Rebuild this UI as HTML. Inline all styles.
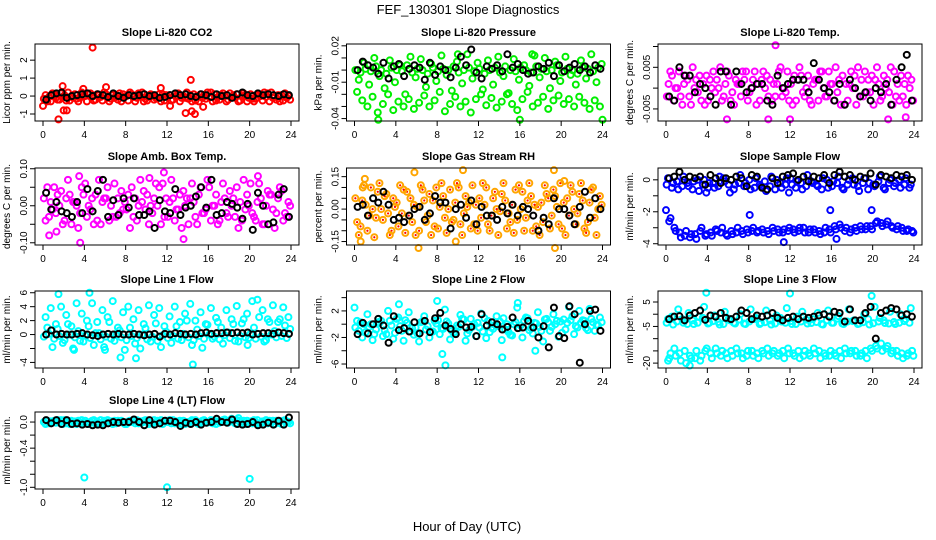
<!DOCTYPE html>
<html><head><meta charset="utf-8"><title>FEF_130301 Slope Diagnostics</title>
<style>
html,body{margin:0;padding:0;background:#fff;}
svg{display:block;font-family:"Liberation Sans",sans-serif;}
</style></head>
<body>
<svg id="fig" width="936" height="540" viewBox="0 0 936 540">
<text x="468" y="14" text-anchor="middle" font-size="13">FEF_130301  Slope Diagnostics</text>
<text x="467" y="531" text-anchor="middle" font-size="13">Hour of Day (UTC)</text>
</svg>
<script>
const halfHours = [0,0.5,1,1.5,2,2.5,3,3.5,4,4.5,5,5.5,6,6.5,7,7.5,8,8.5,9,9.5,10,10.5,11,11.5,12,12.5,13,13.5,14,14.5,15,15.5,16,16.5,17,17.5,18,18.5,19,19.5,20,20.5,21,21.5,22,22.5,23,23.5];
const xTicks = [0,4,8,12,16,20,24];

const co2A = [-0.15,-0.05,0.1,-0.2,0.05,-0.25,0.1,-0.1,0.0,0.15,-0.2,-0.05,0.1,-0.15,0.05,-0.3,0.0,0.1,-0.1,0.2,-0.25,0.05,-0.1,0.1,-0.05,-0.2,0.15,0.0,-0.15,0.1,-0.3,0.05,-0.05,0.1,-0.2,0.0,0.15,-0.1,-0.25,0.05,0.1,-0.15,0.0,-0.05,0.2,-0.2,0.05,-0.1];
const co2B = [0.05,-0.3,-0.1,0.15,-0.25,0.0,-0.15,0.2,-0.3,-0.05,0.1,-0.25,-0.1,0.05,-0.2,0.1,-0.25,-0.05,0.15,-0.3,0.0,-0.2,0.1,-0.25,0.05,0.1,-0.3,-0.1,0.05,-0.25,0.1,-0.15,0.2,-0.25,0.05,-0.3,-0.05,0.1,0.0,-0.3,-0.15,0.1,-0.25,0.15,-0.1,0.05,-0.25,0.0];
const co2C = [-0.3,0.15,-0.2,-0.05,0.2,-0.1,-0.3,0.0,0.1,-0.25,0.05,0.2,-0.3,-0.1,0.15,-0.05,0.2,-0.3,0.0,-0.15,0.1,-0.1,-0.3,0.05,-0.25,0.0,-0.1,0.2,-0.3,0.0,-0.1,0.2,-0.3,-0.05,0.15,-0.2,0.05,-0.3,0.15,-0.1,-0.3,0.05,0.2,-0.3,-0.05,-0.3,0.15,-0.2];
const co2Black = [-0.2,0.05,0.15,0.2,-0.1,0.0,0.05,0.1,0.15,0.0,0.1,0.05,-0.05,0.15,0.0,-0.1,0.05,0.0,0.05,0.1,0.0,0.05,-0.1,-0.05,0.05,0.15,0.05,0.1,0.0,-0.05,0.1,0.05,-0.05,0.1,0.0,0.05,-0.1,0.1,0.2,0.05,0.0,0.15,0.05,0.1,0.05,0.0,0.1,0.05];
const co2OutHours = [0.0,1.5,1.9,2.0,2.3,3.9,4.8,6.1,11.4,12.3,13.8,14.3,14.4,14.7,15.5];
const co2OutVals = [-0.55,-1.3,0.55,-0.8,-0.8,0.4,2.7,0.5,0.45,-0.55,-0.95,0.9,-0.85,-1.0,-0.6];

const presA = [0.0,-0.002,0.001,-0.001,0.003,0.0,-0.003,0.002,0.0,-0.001,0.004,-0.002,0.001,0.0,-0.003,0.002,-0.001,0.001,0.0,0.003,-0.002,0.0,0.002,-0.001,0.001,-0.003,0.0,0.002,-0.002,0.003,0.0,-0.001,0.002,0.0,-0.002,0.003,0.001,-0.001,0.0,0.004,-0.002,0.001,0.0,-0.003,0.002,0.001,-0.001,0.002];
const presB = [-0.018,-0.025,-0.03,-0.022,-0.035,-0.028,-0.02,-0.033,-0.026,-0.03,-0.024,-0.032,-0.027,-0.021,-0.03,-0.025,-0.018,-0.034,-0.028,-0.022,-0.03,-0.026,-0.035,-0.024,-0.02,-0.029,-0.023,-0.031,-0.026,-0.02,-0.028,-0.033,-0.024,-0.018,-0.03,-0.027,-0.022,-0.032,-0.025,-0.021,-0.028,-0.024,-0.03,-0.022,-0.027,-0.032,-0.025,-0.03];
const presC = [-0.008,0.006,-0.012,0.01,-0.005,-0.015,0.008,-0.01,0.004,-0.02,0.011,-0.006,0.009,-0.014,0.005,-0.009,0.012,-0.004,-0.017,0.007,-0.011,0.013,-0.007,0.006,-0.016,0.008,-0.012,0.011,-0.005,-0.019,0.009,-0.008,0.004,-0.013,0.012,-0.006,0.01,-0.015,0.007,-0.009,0.011,-0.004,-0.012,0.008,-0.007,0.013,-0.01,0.005];
const presBlack = [0.0,0.007,0.004,0.002,-0.003,0.006,-0.007,0.003,0.005,-0.005,0.001,0.004,0.002,-0.008,0.006,-0.004,0.003,0.0,-0.006,0.002,0.011,0.004,0.017,-0.002,-0.007,0.003,0.001,0.004,-0.001,0.013,0.002,0.005,0.0,-0.003,-0.002,0.003,0.001,0.006,-0.005,0.004,-0.001,0.002,0.005,0.0,0.003,-0.002,0.004,0.001];
const presOutHours = [2.3,16.0,24.0,10.0,17.2];
const presOutVals = [-0.041,-0.041,-0.041,0.013,0.013];

const tempA = [-0.002,0.003,0.0,-0.004,0.002,0.005,-0.001,0.001,-0.003,0.004,0.0,-0.002,0.003,-0.004,0.001,0.002,-0.001,0.004,-0.003,0.0,0.002,-0.002,0.005,-0.001,0.001,-0.003,0.003,0.0,-0.004,0.002,0.004,-0.002,0.001,-0.001,0.003,-0.003,0.0,0.005,-0.002,0.002,-0.004,0.001,0.003,-0.001,0.004,-0.003,0.001,0.0];
const tempB = [0.001,-0.003,0.004,0.001,-0.002,0.0,0.003,-0.004,0.002,-0.001,0.005,0.001,-0.003,0.002,-0.002,0.004,0.0,-0.004,0.002,0.003,-0.003,0.001,-0.002,0.004,-0.004,0.002,-0.001,0.003,0.001,-0.003,0.0,0.004,-0.003,0.002,-0.004,0.001,0.003,-0.002,0.004,-0.001,0.002,-0.003,0.0,0.005,-0.002,0.003,-0.004,0.002];
const tempC = [0.004,0.0,-0.002,0.003,-0.004,0.002,-0.003,0.003,0.0,0.002,-0.003,0.004,-0.001,0.001,0.004,-0.003,0.002,0.001,0.004,-0.002,0.001,0.004,0.0,-0.003,0.003,0.005,-0.002,-0.003,0.002,0.004,-0.002,0.001,0.005,-0.004,0.001,0.004,-0.004,0.002,-0.001,0.003,0.005,-0.002,0.002,-0.004,0.001,-0.002,0.003,-0.003];
const tempBlack = [-0.002,-0.003,0.005,0.003,0.003,-0.001,0.001,0.0,-0.002,-0.004,0.004,0.004,-0.004,0.004,0.001,-0.001,0.0,0.001,0.001,-0.003,-0.004,0.003,0.0,0.001,0.002,0.002,0.002,-0.001,0.006,0.002,0.0,-0.001,-0.003,0.001,-0.004,0.002,0.0,-0.002,-0.001,-0.003,0.0,-0.001,0.001,-0.004,0.002,0.005,0.008,-0.003];
const tempOutHours = [5.9,9.9,10.6,12.0,21.5,23.2];
const tempOutVals = [-0.0075,-0.0075,0.0103,-0.0075,-0.0075,-0.007];

const ambA = [0.02,-0.03,0.05,0.0,-0.04,0.03,0.01,-0.02,0.06,-0.01,0.03,-0.05,0.02,0.0,-0.03,0.04,-0.01,0.05,-0.04,0.01,0.03,-0.02,0.0,0.06,-0.03,0.02,-0.01,0.04,-0.05,0.01,0.03,-0.02,0.05,0.0,-0.04,0.02,0.04,-0.03,0.01,-0.01,0.06,-0.04,0.02,0.0,0.03,-0.02,0.04,-0.03];
const ambB = [-0.04,0.01,-0.02,0.04,0.02,-0.05,0.0,0.05,-0.03,0.02,-0.04,0.01,0.05,-0.03,0.02,-0.01,0.03,-0.03,0.0,0.04,-0.05,0.02,0.05,-0.03,0.01,-0.04,0.03,0.0,0.02,-0.03,0.05,-0.01,-0.04,0.03,0.01,-0.02,0.0,0.05,-0.04,0.03,-0.02,0.01,-0.05,0.04,-0.01,0.02,-0.04,0.01];
const ambC = [0.05,-0.01,0.03,-0.05,0.07,0.01,-0.06,0.03,0.0,-0.05,0.07,0.02,-0.04,0.06,-0.02,0.01,-0.06,0.02,0.07,-0.01,0.0,0.06,-0.05,0.02,0.07,-0.01,-0.06,0.02,0.06,-0.05,-0.02,0.07,0.0,-0.05,0.06,-0.03,0.02,-0.06,0.07,0.0,-0.03,0.06,-0.05,0.03,-0.06,0.05,-0.02,0.0];
const ambBlack = [0.035,-0.01,0.01,-0.015,-0.02,-0.03,0.01,-0.02,0.045,-0.015,0.04,0.07,-0.03,0.015,-0.025,0.02,-0.005,0.02,-0.025,-0.025,-0.015,-0.06,0.015,-0.015,-0.02,0.045,-0.025,-0.005,0.0,0.025,0.05,-0.005,0.07,-0.025,-0.02,0.01,0.005,-0.005,-0.035,0.005,-0.065,0.035,0.0,-0.05,-0.045,0.03,0.045,-0.03];
const ambOutHours = [0.6,1.3,3.6,11.7,13.6,3.5,10.3,20.8];
const ambOutVals = [-0.08,-0.07,-0.1,0.09,-0.09,0.08,0.075,0.08];

const rhA = [0.05,-0.08,0.02,0.1,-0.04,0.0,0.07,-0.1,0.03,-0.02,0.08,-0.06,0.01,0.09,-0.03,0.04,-0.09,0.06,0.0,-0.05,0.1,-0.02,0.03,-0.07,0.05,0.02,-0.1,0.08,-0.01,0.04,-0.06,0.09,0.0,-0.04,0.06,-0.08,0.03,0.07,-0.03,0.01,-0.09,0.05,0.08,-0.02,0.04,-0.06,0.1,0.0];
const rhB = [-0.06,0.04,-0.1,0.0,0.08,-0.05,-0.02,0.05,-0.08,0.09,-0.03,0.02,-0.1,0.04,0.07,-0.08,0.01,-0.04,0.09,0.03,-0.07,0.06,-0.09,0.02,-0.04,0.1,-0.03,0.0,0.07,-0.09,0.02,-0.05,0.08,0.04,-0.1,0.01,-0.06,0.05,0.09,-0.07,0.03,-0.03,0.0,0.07,-0.09,0.03,-0.04,0.06];
const rhC = [-0.12,0.11,-0.03,-0.13,0.12,0.06,-0.12,0.01,0.11,-0.11,0.05,-0.12,0.11,-0.06,-0.12,0.1,0.12,-0.11,-0.06,0.12,-0.12,0.01,0.11,-0.1,0.12,-0.07,0.05,-0.12,0.12,-0.02,-0.11,0.11,-0.1,0.12,0.02,-0.12,0.11,-0.09,0.06,0.12,-0.12,0.11,-0.07,0.12,-0.11,0.09,-0.12,0.02];
const rhBlack = [0.01,0.02,-0.03,0.05,0.03,0.08,0.02,-0.05,-0.04,-0.06,-0.03,0.0,0.01,-0.05,-0.02,0.06,0.03,0.03,-0.09,0.0,0.02,-0.04,0.04,-0.07,0.01,-0.03,-0.03,-0.05,0.01,-0.02,0.02,-0.03,0.01,0.0,-0.03,-0.1,-0.04,-0.07,0.05,0.0,0.0,-0.03,-0.07,0.01,0.08,-0.04,0.05,0.0];
const rhOutHours = [0.6,1.0,5.8,6.2,10.5,9.8,19.3,19.4,20.3,0.8];
const rhOutVals = [-0.15,0.14,0.17,-0.18,0.18,-0.15,0.18,-0.18,0.13,0.1];

const sfA = [-0.3,-0.5,-0.1,-0.4,-0.2,-0.6,0.0,-0.3,-0.5,-0.2,-0.4,0.1,-0.3,-0.6,-0.2,-0.4,0.0,-0.5,-0.3,-0.1,-0.4,-0.6,-0.2,-0.3,0.1,-0.5,-0.2,-0.4,-0.1,-0.3,-0.6,0.0,-0.4,-0.2,-0.5,-0.3,0.1,-0.4,-0.2,-0.6,-0.3,-0.1,-0.5,-0.2,-0.4,0.0,-0.3,-0.5];
const sfB = [0.1,-0.2,-0.6,0.2,-0.4,-0.1,-0.7,0.0,-0.2,-0.5,0.2,-0.1,-0.8,-0.3,0.3,-0.2,-0.6,0.1,-0.4,-0.7,0.2,0.0,-0.5,0.1,-0.3,-0.1,-0.6,0.3,-0.2,-0.4,0.1,-0.5,-0.1,0.2,-0.6,0.0,-0.3,-0.7,0.1,-0.2,-0.4,0.2,-0.6,0.0,-0.2,-0.5,0.1,-0.3];
const sfC = [-2.6,-3.0,-3.3,-3.5,-3.6,-3.4,-3.2,-3.5,-3.3,-3.1,-3.3,-3.4,-3.2,-3.3,-3.2,-3.1,-3.2,-3.3,-3.1,-3.2,-3.0,-3.1,-3.3,-3.2,-3.1,-3.2,-3.0,-3.3,-3.1,-3.2,-3.3,-3.1,-2.9,-2.8,-3.2,-3.3,-3.0,-2.9,-3.1,-2.9,-2.7,-2.7,-2.8,-2.9,-3.1,-3.0,-3.2,-3.2];
const sfD = [-2.4,-3.2,-3.6,-3.2,-3.4,-3.7,-3.0,-3.4,-3.5,-3.2,-3.0,-3.5,-3.4,-3.0,-3.4,-3.3,-3.0,-3.2,-3.3,-3.4,-3.2,-3.3,-3.1,-3.0,-3.3,-3.0,-3.3,-3.1,-3.3,-3.4,-3.0,-3.3,-3.1,-3.0,-3.0,-3.1,-3.2,-3.1,-2.9,-3.1,-2.6,-2.9,-2.6,-3.0,-2.9,-3.2,-3.1,-3.3];
const sfBlack = [0.1,0.2,0.5,0.0,0.2,0.1,0.2,-0.3,0.3,0.1,-0.2,0.1,0.0,0.2,0.1,-0.4,0.3,0.2,-0.5,-0.6,0.1,-0.2,0.2,0.3,0.4,0.0,0.2,-0.1,0.2,0.1,0.3,-0.2,0.3,0.5,0.2,0.3,0.0,0.2,0.1,0.4,-0.3,0.3,0.2,0.1,0.3,0.2,0.3,0.0];
const sfOutHours = [0.0,8.1,11.4,15.9,16.5,19.9,3.9,11.9];
const sfOutVals = [-1.9,-2.2,-3.9,-1.9,-3.7,-1.9,-0.8,-0.8];

const l1A = [-0.3,0.1,-0.6,-0.2,-0.8,0.0,-0.4,-0.9,-0.1,-0.5,0.2,-0.7,-0.3,-0.6,0.1,-0.4,-0.8,-0.2,-0.5,0.0,-0.7,-0.3,-0.9,-0.1,-0.5,-0.2,-0.6,0.1,-0.4,-0.8,-0.2,-0.6,0.0,-0.3,-0.7,-0.1,-0.5,-0.9,-0.2,-0.4,0.1,-0.6,-0.3,-0.8,0.0,-0.4,-0.2,-0.5];
const l1B = [2.5,3.8,1.5,4.0,2.8,1.2,4.5,3.0,2.0,4.5,1.8,3.5,2.5,4.8,1.0,3.2,4.0,2.2,3.5,1.5,4.2,2.8,3.8,1.2,2.6,4.0,1.8,3.0,4.4,2.0,3.2,1.5,3.8,2.4,1.0,3.5,2.2,4.1,1.6,3.0,4.8,5.0,3.5,2.2,4.2,1.8,3.9,2.5];
const l1C = [1.0,-1.8,0.8,-1.2,1.5,-2.0,0.5,-1.0,1.2,-1.5,0.2,-1.8,1.8,-0.9,0.6,-2.2,1.0,-1.3,-2.0,0.9,-1.0,1.6,-1.8,0.4,-1.2,1.2,-0.8,2.0,-1.5,0.7,-1.9,1.4,-0.6,1.8,-1.3,0.3,1.5,-1.0,2.2,-0.5,1.0,2.5,-1.0,1.8,0.5,2.2,1.3,0.8];
const l1Black = [0.0,0.6,0.0,0.1,0.0,0.0,0.1,0.2,0.0,-0.1,-0.2,0.0,0.1,0.0,0.1,0.0,0.0,0.1,0.0,-0.1,0.0,0.1,-0.3,0.1,0.0,0.2,0.1,0.0,0.1,0.0,0.2,0.3,0.1,0.2,0.2,0.3,0.2,0.3,0.2,0.3,0.0,0.1,0.2,0.2,0.1,0.3,0.2,0.1];
const l1OutHours = [1.5,4.5,7.5,9.0,14.5,3.0,6.0,19.8];
const l1OutVals = [5.8,6.0,-3.3,-3.4,-4.3,-2.2,-2.2,-1.5];

const l2A = [-0.5,0.3,-1.2,0.0,-0.8,0.5,-1.5,-0.2,0.8,-1.0,0.2,-0.6,-1.4,0.4,-0.3,-1.1,0.6,-0.7,0.1,-1.3,-0.4,0.7,-0.9,0.0,-0.5,0.9,-1.2,-0.1,0.4,-0.8,-1.6,0.3,-0.2,1.0,-0.6,0.1,-1.0,0.8,-0.4,0.5,-1.3,0.2,1.2,-0.5,0.6,-0.9,0.3,-0.2];
const l2B = [0.5,-2.0,1.5,-2.4,0.3,-1.8,2.0,-2.2,1.0,-2.5,1.8,-1.6,-2.6,1.2,-2.0,0.5,-1.5,2.2,-2.3,-1.2,1.4,-2.5,0.8,-1.8,1.6,-2.1,-0.5,1.2,-2.4,0.0,-1.7,2.5,-2.0,0.9,-1.4,1.8,-2.6,0.3,1.5,-1.9,0.7,2.6,-1.5,2.0,0.5,2.3,-1.0,1.0];
const l2C = [-1.0,0.0,-0.4,-1.5,0.2,-0.9,0.5,-1.3,-0.3,0.6,-1.1,-0.5,0.3,-0.8,-1.2,0.1,-0.6,0.4,-1.0,-0.2,0.8,-1.4,-0.4,0.2,-1.1,0.5,-0.7,-0.3,0.9,-1.2,0.0,-0.6,0.5,-0.9,0.2,-0.4,0.7,-1.0,0.0,0.4,-0.8,0.6,-0.3,0.2,-0.6,0.8,-0.1,0.3];
const l2Black = [-1.5,0.2,-1.4,0.0,0.8,-0.2,-2.8,1.2,-0.9,-0.6,-1.1,0.3,-1.4,0.5,-1.2,0.9,1.7,-0.2,-0.7,-1.5,0.0,-0.5,-0.4,-1.8,1.5,-0.2,0.3,0.0,-0.8,-0.4,1.0,-0.6,-0.5,0.5,-0.5,-2.0,-0.3,-3.5,2.5,-1.8,-2.1,2.7,1.5,-5.8,0.0,2.0,2.2,-1.0];
const l2OutHours = [0.0,4.3,8.0,8.8,14.3,15.8,17.5,8.5];
const l2OutVals = [2.5,3.0,3.5,-6.2,-5.0,3.2,-4.0,-4.5];

const l3A = [-3.5,-1.0,-3.0,-2.0,-4.0,-2.5,-3.5,-1.5,-3.8,-2.8,-3.2,-4.0,-1.8,-3.5,-2.2,-3.8,-3.0,-2.0,-4.0,-3.3,-2.5,-3.8,-1.5,-3.5,-2.8,-4.0,-3.0,-2.2,-3.6,-3.2,-4.0,-2.5,-3.5,-1.8,-3.8,-3.0,-2.8,-4.0,-3.3,-2.0,-3.7,-3.0,-2.5,-3.8,-3.2,-3.5,-2.8,-3.5];
const l3B = [-2.0,-4.2,2.0,-3.5,0.5,-4.0,-1.0,3.0,-3.5,-0.5,-4.2,1.0,-2.5,-3.8,0.0,-4.0,2.0,-1.5,-3.6,1.5,-4.2,-0.5,-3.0,2.5,-4.0,-1.0,1.0,-3.8,-2.0,0.5,-4.2,1.5,-3.5,-0.8,-4.0,2.0,-2.5,-3.8,0.0,-4.2,3.0,-1.5,-3.6,1.0,-4.0,0.0,-2.0,2.5];
const l3C = [-18,-14,-16,-15,-17,-18,-19,-15,-16,-14,-17,-16,-15,-14,-16,-17,-15,-16,-15,-14,-16,-17,-15,-14,-16,-15,-17,-16,-14,-15,-16,-17,-16,-15,-14,-16,-15,-17,-15,-14,-13,-12,-14,-16,-15,-16,-17,-15];
const l3D = [-16,-17,-19,-20,-18,-15,-17,-14,-18,-16,-15,-18,-17,-16,-18,-15,-17,-18,-16,-17,-15,-16,-18,-16,-17,-18,-15,-17,-16,-18,-17,-15,-17,-18,-16,-15,-17,-16,-18,-15,-14,-15,-13,-15,-17,-18,-16,-17];
const l3Black = [-2.0,-1.0,-0.8,-2.5,-0.5,0.5,1.5,-2.3,-0.5,-1.0,0.5,-1.5,-2.0,-1.0,1.5,0.5,-2.0,-0.5,-1.0,-0.5,0.5,-1.5,-2.5,-1.5,-1.0,-2.0,-1.0,-1.5,-1.0,-0.5,0.0,-1.0,1.0,0.5,-3.0,2.0,-2.5,-2.5,0.5,3.0,-10.0,0.5,1.5,2.5,2.0,-0.5,0.0,-1.0];
const l3OutHours = [3.9,12.0,19.9,2.3,0.2];
const l3OutVals = [8.8,8.5,7.5,-21,-19];

const l4A = [0.0,-0.02,0.02,-0.01,0.03,-0.03,0.01,-0.02,0.02,0.0,-0.03,0.03,-0.01,0.01,-0.02,0.02,-0.03,0.0,0.03,-0.01,0.01,-0.02,0.02,-0.03,0.0,0.03,-0.01,0.02,-0.02,0.01,-0.03,0.03,0.0,0.02,-0.01,0.04,0.01,-0.02,0.02,-0.03,0.01,0.0,-0.02,0.03,-0.01,0.02,-0.03,0.01];
const l4B = [-0.03,0.01,-0.01,0.03,-0.02,0.02,-0.03,0.03,-0.01,0.02,0.01,-0.02,0.03,-0.03,0.02,-0.01,0.01,0.03,-0.02,0.02,-0.03,0.03,-0.01,0.01,0.03,-0.02,0.02,-0.03,0.01,0.03,-0.01,0.0,0.03,-0.03,0.02,0.02,0.05,0.03,-0.01,0.02,-0.02,0.03,0.01,-0.02,0.02,-0.01,0.02,0.0];
const l4C = [0.02,0.0,0.03,-0.03,0.01,0.0,0.02,-0.01,-0.03,0.03,-0.01,0.02,0.0,0.02,0.01,-0.03,0.02,-0.02,0.01,0.03,-0.02,0.0,0.03,0.02,-0.02,0.01,-0.03,0.0,0.03,-0.02,0.02,-0.01,-0.02,0.01,0.03,-0.01,0.03,0.06,0.02,-0.02,0.03,-0.03,0.0,0.02,-0.03,0.01,0.03,-0.02];
const l4Black = [0.03,-0.02,0.03,-0.03,0.03,-0.03,-0.02,-0.04,-0.03,-0.05,-0.04,-0.05,-0.02,0.0,-0.01,0.0,0.0,0.04,0.0,-0.05,0.03,-0.04,-0.02,0.02,0.02,0.0,-0.06,-0.01,-0.03,0.0,-0.04,-0.01,0.0,0.05,0.0,-0.01,0.04,-0.03,-0.04,-0.03,0.0,-0.05,-0.04,-0.01,-0.04,0.02,-0.04,0.07];
const l4OutHours = [4.0,12.0,20.0];
const l4OutVals = [-0.85,-1.0,-0.87];

const co2Ticks = [-1,0,1,2], co2Labels = ["-1","0","1","2"];
const presTicks = [-0.04,-0.03,-0.02,-0.01,0,0.01,0.02], presLabels = ["-0.04","","","-0.01","","","0.02"];
const tempTicks = [-0.005,0,0.005,0.01], tempLabels = ["-0.005","","0.005",""];
const ambTicks = [-0.1,-0.05,0,0.05,0.1], ambLabels = ["-0.10","","0.00","","0.10"];
const rhTicks = [-0.15,-0.1,-0.05,0,0.05,0.1,0.15], rhLabels = ["-0.15","","","0.00","","","0.15"];
const sfTicks = [-4,-3,-2,-1,0], sfLabels = ["-4","","-2","","0"];
const l1Ticks = [-4,-2,0,2,4,6], l1Labels = ["-4","","0","2","4","6"];
const l2Ticks = [-6,-4,-2,0,2,4], l2Labels = ["-6","","-2","","2",""];
const l3Ticks = [-20,-15,-10,-5,0,5], l3Labels = ["-20","","","-5","","5"];
const l4Ticks = [-1.0,-0.8,-0.6,-0.4,-0.2,0.0], l4Labels = ["-1.0","","","-0.4","","0.0"];

const panels = [
 {key:"co2",title:"Slope Li-820 CO2",ylab:"Licor ppm per min.",col:0,row:0,ymin:-1.39,ymax:2.9,color:"#ff0000",series:[co2A,co2B,co2C],black:co2Black,oh:co2OutHours,ov:co2OutVals,ticks:co2Ticks,labels:co2Labels},
 {key:"pressure",title:"Slope Li-820 Pressure",ylab:"kPa per min.",col:1,row:0,ymin:-0.042,ymax:0.0215,color:"#00ee00",series:[presA,presB,presC],black:presBlack,oh:presOutHours,ov:presOutVals,ticks:presTicks,labels:presLabels},
 {key:"temp",title:"Slope Li-820 Temp.",ylab:"degrees C per min.",col:2,row:0,ymin:-0.0079,ymax:0.0106,color:"#ff00ff",series:[tempA,tempB,tempC],black:tempBlack,oh:tempOutHours,ov:tempOutVals,ticks:tempTicks,labels:tempLabels},
 {key:"amb",title:"Slope Amb. Box Temp.",ylab:"degrees C per min.",col:0,row:1,ymin:-0.106,ymax:0.102,color:"#ff00ff",series:[ambA,ambB,ambC],black:ambBlack,oh:ambOutHours,ov:ambOutVals,ticks:ambTicks,labels:ambLabels},
 {key:"rh",title:"Slope Gas Stream RH",ylab:"percent per min.",col:1,row:1,ymin:-0.166,ymax:0.19,color:"#ffa500",inner:"#ff0000",series:[rhA,rhB,rhC],black:rhBlack,oh:rhOutHours,ov:rhOutVals,ticks:rhTicks,labels:rhLabels},
 {key:"sample",title:"Slope Sample Flow",ylab:"ml/min per min.",col:2,row:1,ymin:-4.08,ymax:0.74,color:"#0000ff",series:[sfA,sfB,sfC,sfD],black:sfBlack,oh:sfOutHours,ov:sfOutVals,ticks:sfTicks,labels:sfLabels},
 {key:"line1",title:"Slope Line 1 Flow",ylab:"ml/min per min.",col:0,row:2,ymin:-4.8,ymax:6.25,color:"#00ffff",series:[l1A,l1B,l1C],black:l1Black,oh:l1OutHours,ov:l1OutVals,ticks:l1Ticks,labels:l1Labels},
 {key:"line2",title:"Slope Line 2 Flow",ylab:"ml/min per min.",col:1,row:2,ymin:-6.6,ymax:5.0,color:"#00ffff",series:[l2A,l2B,l2C],black:l2Black,oh:l2OutHours,ov:l2OutVals,ticks:l2Ticks,labels:l2Labels},
 {key:"line3",title:"Slope Line 3 Flow",ylab:"ml/min per min.",col:2,row:2,ymin:-22,ymax:9.5,color:"#00ffff",series:[l3A,l3B,l3C,l3D],black:l3Black,oh:l3OutHours,ov:l3OutVals,ticks:l3Ticks,labels:l3Labels},
 {key:"line4",title:"Slope Line 4 (LT) Flow",ylab:"ml/min per min.",col:0,row:3,ymin:-1.026,ymax:0.154,color:"#00ffff",series:[l4A,l4B,l4C],black:l4Black,oh:l4OutHours,ov:l4OutVals,ticks:l4Ticks,labels:l4Labels}
];

const NS = "http://www.w3.org/2000/svg";
const svg = document.getElementById("fig");
const colLeft = [35, 346.5, 658], rowTop = [44, 168, 291, 412];
const BW = 264, BH = 77;

function mk(tag, attrs, parent){
  const e = document.createElementNS(NS, tag);
  for (const k in attrs) e.setAttribute(k, attrs[k]);
  parent.appendChild(e);
  return e;
}

panels.forEach(p => {
  const L = colLeft[p.col], T = rowTop[p.row], B = T + BH, R = L + BW;
  const xs = h => L + 8 + h / 24 * 248;
  const ys = v => T + (p.ymax - v) / (p.ymax - p.ymin) * BH;
  const g = mk("g", {}, svg);
  
  

  const t = mk("text", {x: (L+R)/2, y: T-8, "text-anchor":"middle", "font-size":"11", "font-weight":"bold"}, g);
  t.textContent = p.title;
  
  

  const yt = mk("text", {x: 0, y: 0, "text-anchor":"middle", "font-size":"10", transform:`translate(${L-25},${(T+B)/2}) rotate(-90)`}, g);
  yt.textContent = p.ylab;
  
  

  const pts = mk("g", {fill:"none", "stroke-width":"2"}, g);
  
  
  const n = p.series.length;
  p.series.forEach((arr, k) => {
    arr.forEach((v, i) => {
      const h = halfHours[i] + (k + 0.5) * 0.5 / n;
      const c = mk("circle", {cx: xs(h), cy: ys(v), r: 3, stroke: p.color}, pts);
      
      
      if (p.inner) {
        const d = mk("circle", {cx: xs(h), cy: ys(v), r: 1.1, fill: p.inner, stroke: "none"}, pts);
        
        
      }
    });
  });
  p.oh.forEach((h, i) => {
    const c = mk("circle", {cx: xs(h), cy: ys(p.ov[i]), r: 3, stroke: p.color}, pts);
    
    
  });
  p.black.forEach((v, i) => {
    const h = Math.min(halfHours[i] + 0.3, 23.9);
    const c = mk("circle", {cx: xs(h), cy: ys(v), r: 3, stroke: "#000"}, pts);
    
    
  });

  const box = mk("rect", {x: L, y: T, width: BW, height: BH, fill: "none", stroke: "#000", "stroke-width": "1"}, g);
  
  

  const xa = mk("g", {}, g);
  
  
  xTicks.forEach(h => {
    mk("line", {x1: xs(h), x2: xs(h), y1: B, y2: B+5, stroke: "#000"}, xa);
    const tl = mk("text", {x: xs(h), y: B+17, "text-anchor":"middle", "font-size":"10"}, xa);
    tl.textContent = h;
    
    
  });

  const ya = mk("g", {}, g);
  
  
  p.ticks.forEach((v, i) => {
    const y = ys(v);
    mk("line", {x1: L-5, x2: L, y1: y, y2: y, stroke: "#000"}, ya);
    if (p.labels[i]) {
      const tl = mk("text", {x: 0, y: 0, "text-anchor":"middle", "font-size":"10", transform:`translate(${L-8},${y}) rotate(-90)`}, ya);
      tl.textContent = p.labels[i];
      
      
    }
  });
});
</script>
</body></html>
